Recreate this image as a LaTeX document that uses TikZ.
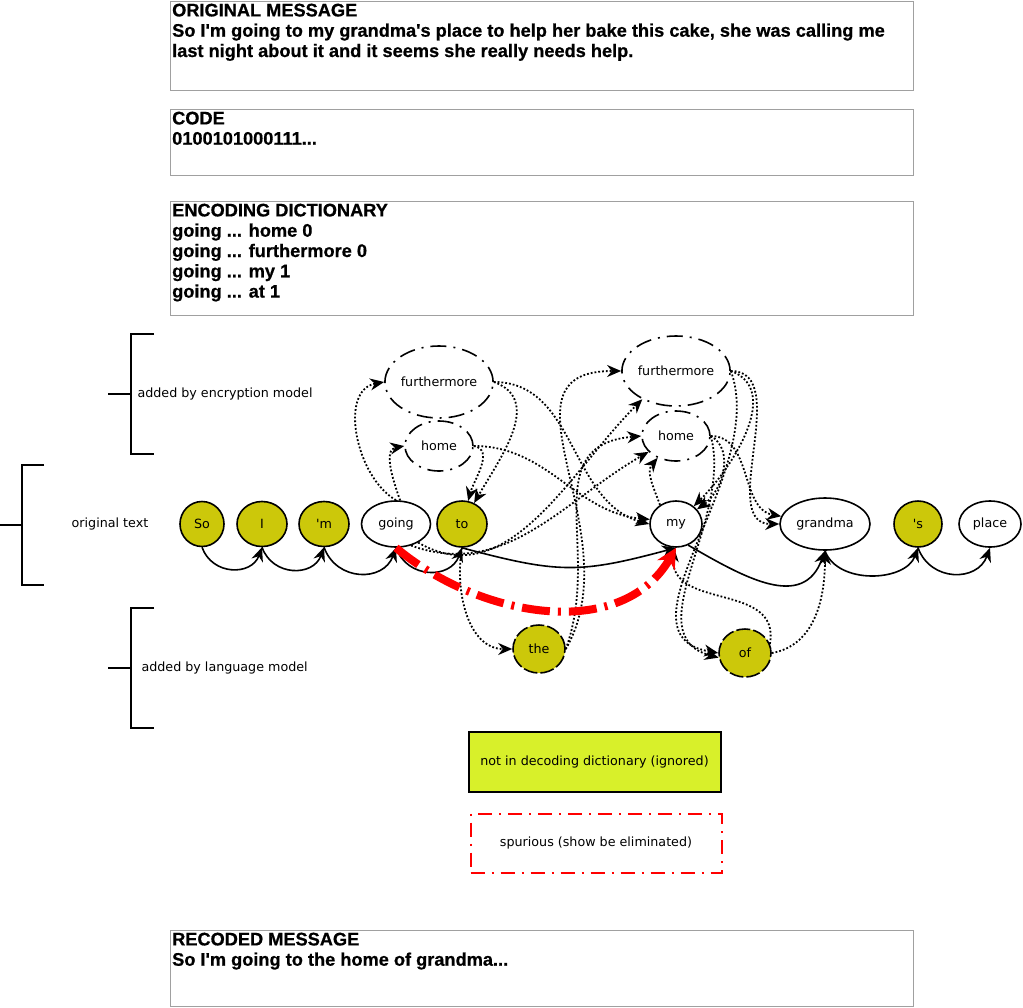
\documentclass[tikz,border=0pt]{standalone}
\usepackage{fontspec}
\setmainfont{DejaVu Sans}
\newfontfamily\msgfont{Liberation Sans}[BoldFeatures={FakeBold=0.7}]
\usetikzlibrary{shapes.geometric,arrows.meta}
\definecolor{wordfill}{RGB}{204,200,10}
\definecolor{keyfill}{RGB}{216,240,42}
\definecolor{boxgray}{RGB}{160,160,160}

\begin{document}
\begin{tikzpicture}[x=1pt,y=1pt]
\tikzstyle{every node}=[font=\fontsize{12.7}{15}\selectfont];
\tikzstyle{word}=[draw,line width=1.6pt,shape=ellipse,inner sep=0pt,minimum height=46pt];
\tikzstyle{ign}=[word,fill=wordfill];
\tikzstyle{keep}=[word];
\tikzstyle{enc}=[word,dash pattern=on 16pt off 7pt on 2pt off 7pt];
\tikzstyle{lm}=[word,fill=wordfill,dash pattern=on 14pt off 3pt,minimum width=52pt,minimum height=48pt];
\tikzstyle{link}=[line width=1.6pt,-{Stealth[length=14pt,width=12pt]}];
\tikzstyle{hop}=[link,line width=1.8pt,dotted];
\tikzstyle{spur}=[red,line width=8pt,dash pattern=on 28pt off 8pt on 3pt off 8pt,-{Stealth[length=20pt,width=20pt]}];
\tikzstyle{msgbox}=[draw=boxgray,line width=1.2pt,anchor=north west,minimum width=743pt,inner sep=0pt];
\tikzstyle{msgtext}=[anchor=north west,align=left,inner xsep=2pt,inner ysep=2.5pt,font=\msgfont\bfseries\fontsize{18.2}{20.3}\selectfont];
\tikzstyle{brace}=[line width=2pt];
\useasboundingbox (0,0) rectangle (1023,-1007);

% message boxes
\node[msgbox,minimum height=89pt] (origbox) at (170,-1) {};
\node[msgtext] (orig) at (origbox.north west) {ORIGINAL MESSAGE\\
So I\textquotesingle m going to my grandma\textquotesingle s place to help her bake this cake, she was calling me\\
last night about it and it seems she really needs help.};
\node[msgbox,minimum height=66pt] (codebox) at (170,-109) {};
\node[msgtext] (code) at (codebox.north west) {CODE\\ 0100101000111...};
\node[msgbox,minimum height=114pt] (dictbox) at (170,-201) {};
\node[msgtext] (dict) at (dictbox.north west) {ENCODING DICTIONARY\\ going ... home 0\\ going ... furthermore 0\\ going ... my 1\\ going ... at 1};
\node[msgbox,minimum height=76pt] (recbox) at (170,-930) {};
\node[msgtext] (rec) at (recbox.north west) {RECODED MESSAGE\\ So I\textquotesingle m going to the home of grandma...};

% row labels
\node[anchor=west] (enclabel) at (134,-394) {added by encryption model};
\node (origlabel) at (110,-524) {original text};
\node[anchor=west] (lmlabel) at (138,-668) {added by language model};
\draw[brace] (154,-334) -- (131,-334) -- (131,-454) -- (154,-454) (108,-394) -- (131,-394);
\draw[brace] (44,-465) -- (22,-465) -- (22,-585) -- (44,-585) (0,-525) -- (22,-525);
\draw[brace] (154,-608) -- (131,-608) -- (131,-728) -- (154,-728) (108,-668) -- (131,-668);

% original text
\foreach \x/\n/\t/\w/\h/\s in {202/so/So/44/45/ign, 262/i/I/50/45/ign, 324/m/\textquotesingle m/50/45/ign,
  396/going/going/69/46/keep, 462/to/to/50/46/ign, 676/my/my/52/46/keep,
  825/grandma/grandma/90/52/keep, 918/s/\textquotesingle s/48/46/ign, 990/place/place/62/46/keep}
{
\path (\x,-524) node[\s,minimum width=\w pt,minimum height=\h pt] (\n) {\t};
}

% inserted words
\node[enc,minimum width=102pt,minimum height=72pt] (fm1) at (439,-382) {furthermore};
\node[enc,minimum width=68pt,minimum height=50pt] (home1) at (439,-446) {home};
\node[enc,minimum width=100pt,minimum height=70pt] (fm2) at (676,-371) {furthermore};
\node[enc,minimum width=68pt,minimum height=50pt] (home2) at (676,-436) {home};
\node[lm] (the) at (539,-649) {the};
\node[lm] (of) at (745,-653) {of};

% text order
\foreach \a/\b in {so/i, i/m, m/going, going/to, s/place}
\draw[link] (\a.south) to[out=-70,in=-110,looseness=1.3] (\b.south);
\draw[link] (to.south) to[out=-15,in=-165,looseness=1.2] (my.south);
\draw[link] (my.-60) to[out=-30,in=-110,looseness=1.2] (grandma.south);
\draw[link] (grandma.south) to[out=-70,in=-110] (s.south);

% encryption and language model
\draw[hop] (going.north) to[out=150,in=190] (fm1.west);
\draw[hop] (going.80) to[out=110,in=190] (home1.west);
\draw[hop] (fm1.east) to[out=-20,in=60,looseness=1.1] (to.60);
\draw[hop] (home1.east) to[out=-10,in=75] (to.75);
\draw[hop] (fm1.east) to[out=0,in=165] (my.west);
\draw[hop] (home1.east) to[out=0,in=175] (my.170);
\draw[hop] (to.south) to[out=-100,in=180] (the.west);
\draw[hop] (the.east) to[out=60,in=180,looseness=1.2] (fm2.west);
\draw[hop] (the.east) to[out=70,in=185,looseness=1.2] (home2.west);
\draw[hop] (going.-40) to[out=-30,in=-135] (fm2.-140);
\draw[hop] (going.-55) to[out=-20,in=-150] (home2.-150);
\draw[hop] (my.130) to[out=110,in=-130] (home2.-130);
\draw[hop] (fm2.east) to[out=0,in=180] (grandma.west);
\draw[hop] (home2.east) to[out=0,in=170] (grandma.170);
\draw[hop] (fm2.east) to[out=-20,in=45] (my.45);
\draw[hop] (home2.east) to[out=-30,in=35] (my.35);
\draw[hop] (fm2.east) to[out=-70,in=170] (of.west);
\draw[hop] (home2.east) to[out=-75,in=165] (of.190);
\draw[hop] (of.20) to[out=80,in=-95,looseness=1.2] (my.-95);
\draw[hop] (of.east) to[out=10,in=-90] (grandma.south);
\draw[spur] (going.south) to[out=-40,in=-120] (my.south);

% legend
\node[draw,line width=2pt,fill=keyfill,minimum width=252pt,minimum height=60pt] (ignkey) at (594.5,-761.5) {not in decoding dictionary (ignored)};
\node[draw=red,line width=2pt,dash pattern=on 14pt off 7pt on 2pt off 7pt,minimum width=251pt,minimum height=59pt] (spurkey) at (596,-843) {spurious (show be eliminated)};
\end{tikzpicture}
\end{document}
